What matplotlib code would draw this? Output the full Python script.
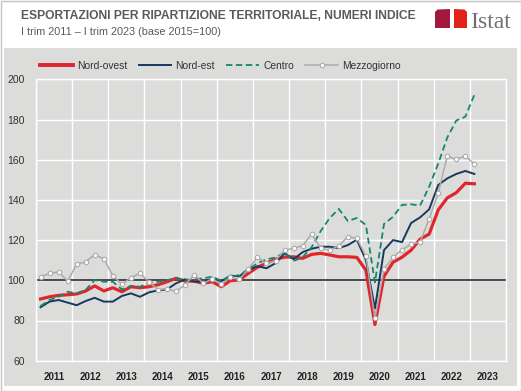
import matplotlib
matplotlib.use("Agg")
import matplotlib.pyplot as plt
import numpy as np
from matplotlib.patches import Rectangle, Polygon
from matplotlib.lines import Line2D

plt.rcParams['font.family'] = ['Liberation Sans', 'DejaVu Sans']

# dati trimestrali, I trim 2011 - I trim 2023 (base 2015=100)
anni = [str(a) for a in range(2011, 2024)]
nord_ovest = [90.7, 91.8, 92.5, 92.8, 93.2, 94.7, 97.2, 94.7, 96.3, 94.3,
              96.8, 96.3, 96.8, 97.8, 99.3, 101.0, 99.6, 99.6, 98.5, 99.3,
              96.8, 99.8, 100.2, 103.5, 106.5, 108.5, 110.5, 111.5, 111.7, 110.9,
              112.9, 113.4, 112.6, 111.7, 111.7, 111.4, 105.0, 78.0, 102.0, 109.0,
              111.5, 115.0, 120.5, 123.0, 135.0, 141.0, 143.6, 148.3, 148.0]
nord_est = [86.6, 89.4, 90.2, 88.9, 87.6, 89.7, 91.3, 89.4, 89.4, 92.2,
            93.5, 91.8, 94.0, 95.0, 95.5, 98.5, 100.5, 99.3, 99.3, 100.8,
            99.5, 102.3, 102.0, 105.3, 107.0, 106.0, 108.5, 113.5, 110.5, 114.0,
            115.7, 116.7, 116.7, 116.0, 117.5, 120.2, 110.0, 86.0, 115.0, 120.0,
            119.0, 128.5, 131.3, 135.3, 147.4, 150.7, 152.9, 154.4, 152.9]
centro = [87.2, 90.2, 91.8, 94.3, 93.5, 95.2, 100.1, 99.3, 99.3, 95.5,
          97.2, 96.8, 98.8, 99.3, 100.1, 101.0, 100.1, 100.5, 101.0, 101.8,
          99.8, 101.8, 102.6, 105.5, 108.5, 110.4, 111.4, 113.8, 109.6, 111.5,
          116.5, 124.5, 131.0, 135.5, 129.5, 131.0, 127.5, 99.0, 128.0, 131.6,
          137.5, 137.8, 137.2, 146.6, 158.0, 171.0, 179.5, 181.4, 192.3]
mezzogiorno = [101.8, 103.4, 104.2, 99.6, 108.0, 109.2, 112.8, 110.7, 102.3, 98.0,
               101.3, 103.5, 99.2, 95.4, 95.8, 94.5, 97.8, 102.8, 98.5, 100.7,
               98.2, 101.4, 100.5, 105.7, 111.4, 108.5, 109.8, 115.0, 115.9, 117.3,
               123.0, 115.9, 115.0, 117.2, 121.7, 120.9, 112.0, 81.0, 105.5, 111.4,
               115.3, 117.9, 119.0, 130.7, 143.3, 161.8, 160.2, 161.8, 157.9]

W, H = 521, 391
BG = '#dcdddb'
ROSSO = '#e0262d'
BLU = '#17395e'
VERDE = '#13876a'
GRIGIO = '#ababab'
TESTO = '#5a5a5a'

fig = plt.figure(figsize=(W / 100, H / 100), dpi=100)

# cornice e pannello grigio
fig.patches.append(Rectangle((0.5 / W, 0.5 / H), (W - 1) / W, (H - 1) / H, transform=fig.transFigure,
                             fill=False, edgecolor='#c4c4c4', lw=1, zorder=-2))
fig.patches.append(Rectangle((4 / W, 1 - 386 / H), 513 / W, 338 / H, transform=fig.transFigure,
                             facecolor=BG, edgecolor='none', zorder=-1))

# titolo
fig.text(21 / W, 1 - 16 / H, 'ESPORTAZIONI PER RIPARTIZIONE TERRITORIALE, NUMERI INDICE',
         fontsize=8.7, fontweight='bold', color=TESTO, va='center', ha='left')
fig.text(21 / W, 1 - 32 / H, 'I trim 2011 \u2013 I trim 2023 (base 2015=100)',
         fontsize=7.8, color=TESTO, va='center', ha='left')

# logo
fig.patches.append(Polygon([(435 / W, 1 - 28 / H), (435 / W, 1 - 12 / H), (437.5 / W, 1 - 9.5 / H),
                            (450 / W, 1 - 9 / H), (450 / W, 1 - 28 / H)],
                           closed=True, transform=fig.transFigure, facecolor='#a3193c', edgecolor='none'))
fig.patches.append(Polygon([(454 / W, 1 - 28 / H), (454 / W, 1 - 9 / H), (464.5 / W, 1 - 9.5 / H),
                            (467 / W, 1 - 12 / H), (467 / W, 1 - 28 / H)],
                           closed=True, transform=fig.transFigure, facecolor='#e2231a', edgecolor='none'))
fig.text(470 / W, 1 - 28 / H, 'Istat', family=['Liberation Serif', 'DejaVu Serif'], fontsize=17,
         color='#707070', va='baseline', ha='left')

ax = fig.add_axes([36 / W, 1 - 360.7 / H, 470 / W, 281.4 / H])
ax.set_facecolor(BG)
for s in ax.spines.values():
    s.set_color('white')
    s.set_linewidth(1)

x = np.arange(len(nord_ovest))
ax.plot(x, nord_ovest, color=ROSSO, lw=2.3, zorder=3)
ax.plot(x, nord_est, color=BLU, lw=1.4, zorder=4)
ax.plot(x, centro, color=VERDE, lw=1.3, ls=(0, (3.5, 2)), zorder=5)
ax.plot(x, mezzogiorno, color=GRIGIO, lw=1.1, marker='o', ms=3.2, mfc='white', mec=GRIGIO,
        mew=0.8, zorder=6)

ax.axhline(100, color='#3c3c3c', lw=1.3, zorder=2)

ax.set_xlim(-0.5, 51.5)
ax.set_ylim(60, 200)
ax.set_yticks(range(60, 201, 20))
ax.set_xticks(np.arange(-0.5, 52, 4))
ax.set_xticklabels([])
ax.set_xticks(np.arange(1.5, 52, 4), minor=True)
ax.set_xticklabels(anni, minor=True, fontsize=7, fontweight='bold', color='#222222')
ax.tick_params(axis='x', which='both', length=0, pad=8)
ax.tick_params(axis='y', length=0, pad=8, labelsize=7.5, labelcolor='#333333')
ax.grid(color='white', lw=1, zorder=1)
ax.set_axisbelow(True)

handles = [Line2D([], [], color=ROSSO, lw=2.8),
           Line2D([], [], color=BLU, lw=1.4),
           Line2D([], [], color=VERDE, lw=1.3, ls=(0, (3.5, 2))),
           Line2D([], [], color=GRIGIO, lw=1.1, marker='o', ms=3.2, mfc='white', mec=GRIGIO, mew=0.8)]
fig.legend(handles, ['Nord-ovest', 'Nord-est', 'Centro', 'Mezzogiorno'], ncol=4, frameon=False,
           loc='center left', bbox_to_anchor=(40 / W, 1 - 66 / H), fontsize=7.4,
           handlelength=3.2, handletextpad=0.4, columnspacing=1.1, borderaxespad=0, borderpad=0,
           labelcolor='#333333')

fig.savefig('out.png', dpi=100)
